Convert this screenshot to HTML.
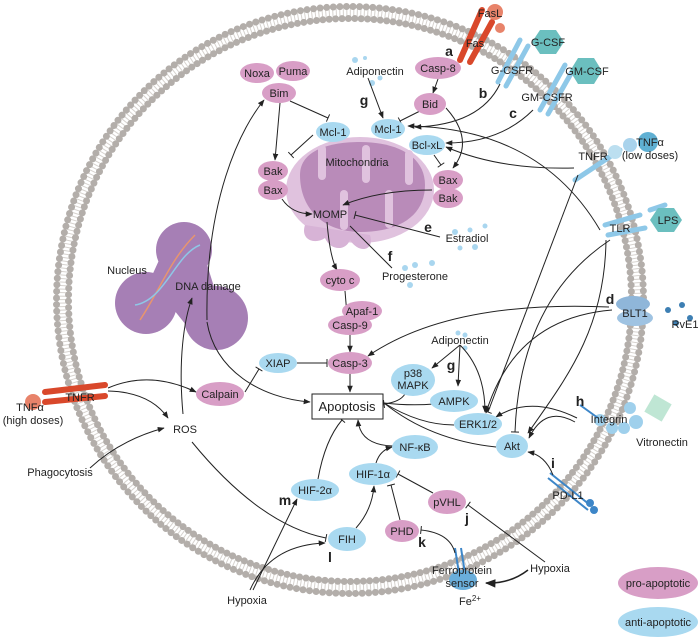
<!DOCTYPE html>
<html><head><meta charset="utf-8"><style>
html,body{margin:0;padding:0;background:#fff}
svg{display:block}
text{font-family:"Liberation Sans",sans-serif;font-size:11px;fill:#222}
.b{font-weight:bold;font-size:14px}
.p{fill:#d89ec6}.q{fill:#a9d9f0}
.l{fill:none;stroke:#222;stroke-width:1}
</style></head><body>
<svg width="700" height="638" viewBox="0 0 700 638">
<defs>
<marker id="a" viewBox="0 0 10 10" refX="9" refY="5" markerWidth="7" markerHeight="7" orient="auto"><path d="M0,1 L10,5 L0,9 Z" fill="#222"/></marker>
<marker id="t" viewBox="0 0 4 10" refX="2" refY="5" markerWidth="4" markerHeight="8" orient="auto"><path d="M2,0 L2,10" stroke="#222" stroke-width="1.2"/></marker>
</defs>
<!-- membrane -->
<circle cx="350" cy="300" r="287.5" fill="none" stroke="#d6d2ce" stroke-width="9" stroke-dasharray="1 2.5"/>
<circle cx="350" cy="300" r="293.5" fill="none" stroke="#b3aeaa" stroke-width="7" stroke-linecap="round" stroke-dasharray="0 6.6"/>
<circle cx="350" cy="300" r="281.5" fill="none" stroke="#b3aeaa" stroke-width="7" stroke-linecap="round" stroke-dasharray="0 6.4"/>

<!-- nucleus -->
<g fill="#a67fb5">
<circle cx="184" cy="250" r="28"/><circle cx="146" cy="303" r="31"/><circle cx="216" cy="318" r="32"/>
<path d="M160,258 L205,258 L215,290 L190,330 L150,280 Z"/>
</g>
<path d="M140,320 C160,290 170,260 195,235" stroke="#e8956e" stroke-width="1.5" fill="none"/>
<path d="M135,305 C165,300 175,255 200,245" stroke="#8fc7e6" stroke-width="1.5" fill="none"/>

<!-- mitochondria -->
<ellipse cx="360" cy="190" rx="74" ry="53" fill="#e0c2de"/>
<path d="M300,175 C300,150 330,142 360,142 C395,142 425,155 425,185 C425,215 400,232 360,232 C325,232 300,210 300,175 Z" fill="#b98bb9"/>
<g fill="#e0c2de"><rect x="318" y="145" width="8" height="35" rx="4"/><rect x="340" y="190" width="8" height="40" rx="4"/><rect x="362" y="145" width="8" height="38" rx="4"/><rect x="385" y="190" width="8" height="38" rx="4"/><rect x="405" y="150" width="8" height="35" rx="4"/></g>
<path d="M305,225 C300,240 315,245 325,238 C330,250 345,252 350,240 C360,255 375,250 370,235 Z" fill="#d7b3d6"/>
<text x="357" y="166" text-anchor="middle">Mitochondria</text>

<!-- receptors -->
<g stroke="#d9482b" stroke-width="6" stroke-linecap="round"><path d="M460,60 L482,10"/><path d="M470,62 L492,22"/></g>
<circle cx="495" cy="12" r="8" fill="#e8836a"/><circle cx="500" cy="28" r="5" fill="#e8836a"/>
<g stroke="#8ec8e8" stroke-width="5" stroke-linecap="round"><path d="M498,82 L520,40"/><path d="M506,86 L528,46"/><path d="M540,110 L565,65"/><path d="M548,114 L573,70"/><path d="M575,180 L620,150"/><path d="M605,225 L640,215"/><path d="M608,235 L645,228"/><path d="M650,210 L665,205"/></g>
<polygon points="540,30 556,30 564,42 556,54 540,54 532,42" fill="#6bbfbf"/>
<polygon points="578,58 594,58 602,71 594,84 578,84 570,71" fill="#6bbfbf"/>
<polygon points="658,208 674,208 682,220 674,232 658,232 650,220" fill="#6bbfbf"/>
<circle cx="648" cy="142" r="10" fill="#5fb0d3"/><circle cx="630" cy="145" r="7" fill="#a9d3ec"/><circle cx="615" cy="152" r="7" fill="#bcdff0"/>
<ellipse cx="633" cy="304" rx="17" ry="8" fill="#8fb6d9"/><ellipse cx="635" cy="318" rx="18" ry="8" fill="#9fc3e2"/>
<g fill="#3d7fb3"><circle cx="668" cy="310" r="3"/><circle cx="682" cy="305" r="3"/><circle cx="690" cy="318" r="3"/><circle cx="676" cy="323" r="3"/></g>
<g fill="#9fd0ec"><circle cx="600" cy="420" r="6"/><circle cx="612" cy="428" r="6"/><circle cx="624" cy="428" r="6"/><circle cx="636" cy="422" r="7"/><circle cx="630" cy="408" r="6"/></g>
<rect x="648" y="398" width="20" height="20" transform="rotate(30 658 408)" fill="#bfe6d4"/>
<g stroke="#3d86c8" stroke-width="2"><path d="M580,405 L598,418"/><path d="M550,473 L590,505"/><path d="M548,478 L588,510"/><path d="M455,548 L460,580"/><path d="M461,548 L466,580"/></g>
<circle cx="594" cy="510" r="4" fill="#3d86c8"/><circle cx="590" cy="503" r="4" fill="#3d86c8"/>
<ellipse cx="463" cy="580" rx="14" ry="10" fill="#6aaedb"/>
<g stroke="#d9482b" stroke-width="6" stroke-linecap="round"><path d="M45,392 L105,385"/><path d="M45,402 L105,396"/></g>
<circle cx="33" cy="402" r="8" fill="#e8836a"/>

<!-- ligand dots -->
<g fill="#a9d6ef">
<circle cx="355" cy="60" r="3"/><circle cx="365" cy="58" r="2"/><circle cx="372" cy="83" r="3"/><circle cx="380" cy="78" r="2.5"/>
<circle cx="455" cy="232" r="3"/><circle cx="470" cy="230" r="2.5"/><circle cx="475" cy="247" r="3"/><circle cx="460" cy="248" r="2.5"/><circle cx="485" cy="226" r="2.5"/>
<circle cx="405" cy="268" r="3"/><circle cx="415" cy="265" r="3"/><circle cx="410" cy="285" r="3"/><circle cx="432" cy="263" r="3"/>
<circle cx="458" cy="333" r="2.5"/><circle cx="465" cy="335" r="2.5"/><circle cx="465" cy="348" r="2.5"/>
</g>

<!-- connectors -->
<g class="l">
<path d="M438,79 L433,93" marker-end="url(#a)"/>
<path d="M420,111 L400,121" marker-end="url(#t)"/>
<path d="M446,108 Q475,140 453,168" marker-end="url(#a)"/>
<path d="M434,155 L441,165" marker-end="url(#t)"/>
<path d="M500,84 Q480,125 415,127" marker-end="url(#a)"/>
<path d="M533,110 Q500,143 446,143" marker-end="url(#a)"/>
<path d="M574,168 Q500,170 446,147" marker-end="url(#a)"/>
<path d="M600,230 Q540,128 408,126" marker-end="url(#a)"/>
<path d="M368,78 L383,118" marker-end="url(#a)"/>
<path d="M280,103 L275,160" marker-end="url(#a)"/>
<path d="M290,101 L328,118" marker-end="url(#t)"/>
<path d="M313,135 L291,155" marker-end="url(#t)"/>
<path d="M282,199 Q292,214 312,214" marker-end="url(#a)"/>
<path d="M432,190 Q380,190 343,205" marker-end="url(#a)"/>
<path d="M440,237 L355,215" marker-end="url(#t)"/>
<path d="M392,268 L350,226"/>
<path d="M327,222 Q330,258 337,270" marker-end="url(#a)"/>
<path d="M345,291 L347,315" marker-end="url(#a)"/>
<path d="M350,335 L350,352" marker-end="url(#a)"/>
<path d="M297,363 L327,363" marker-end="url(#t)"/>
<path d="M350,374 L350,392" marker-end="url(#a)"/>
<path d="M609,307 Q450,300 368,356" marker-end="url(#a)"/>
<path d="M612,310 Q515,318 486,413" marker-end="url(#a)"/>
<path d="M578,175 L488,412" marker-end="url(#t)"/>
<path d="M610,240 Q520,300 515,432" marker-end="url(#t)"/>
<path d="M606,240 C605,330 565,380 528,433" marker-end="url(#a)"/>
<path d="M460,345 L432,368" marker-end="url(#a)"/>
<path d="M460,345 L458,386" marker-end="url(#a)"/>
<path d="M460,345 Q485,370 485,412" marker-end="url(#a)"/>
<path d="M405,394 Q400,402 384,404" marker-end="url(#t)"/>
<path d="M434,404 Q410,406 384,403"/>
<path d="M454,425 Q420,425 384,403"/>
<path d="M496,447 Q430,440 384,403"/>
<path d="M393,446 Q360,445 358,420" marker-end="url(#a)"/>
<path d="M318,479 Q325,440 342,420" marker-end="url(#t)"/>
<path d="M376,463 Q380,450 392,447" marker-end="url(#a)"/>
<path d="M356,528 Q372,510 374,486" marker-end="url(#a)"/>
<path d="M400,520 L391,485" marker-end="url(#t)"/>
<path d="M433,493 L398,474" marker-end="url(#t)"/>
<path d="M545,562 L468,505" marker-end="url(#t)"/>
<path d="M455,553 Q450,533 421,530" marker-end="url(#t)"/>
<path d="M528,570 Q510,584 486,583" marker-end="url(#a)" stroke-width="1.5"/>
<path d="M577,418 Q530,395 496,417" marker-end="url(#a)"/>
<path d="M575,422 Q545,405 529,438" marker-end="url(#a)"/>
<path d="M553,475 Q545,455 528,452" marker-end="url(#a)"/>
<path d="M192,442 Q260,525 326,538" marker-end="url(#t)"/>
<path d="M250,590 Q270,545 325,543" marker-end="url(#a)"/>
<path d="M253,590 L297,499" marker-end="url(#a)"/>
<path d="M90,468 Q120,440 164,428" marker-end="url(#a)"/>
<path d="M108,391 Q150,392 168,418" marker-end="url(#a)"/>
<path d="M108,388 Q150,370 196,392" marker-end="url(#a)"/>
<path d="M245,392 L259,369" marker-end="url(#t)"/>
<path d="M183,414 C178,360 184,320 192,298" marker-end="url(#a)"/>
<path d="M207,320 C205,200 240,130 264,100" marker-end="url(#a)"/>
<path d="M207,322 C215,370 260,398 310,402" marker-end="url(#a)"/>
</g>

<!-- nodes -->
<g>
<ellipse class="p" cx="257" cy="73" rx="17" ry="10"/><ellipse class="p" cx="293" cy="71" rx="17" ry="10"/><ellipse class="p" cx="279" cy="93" rx="17" ry="10"/>
<ellipse class="q" cx="333" cy="132" rx="17" ry="10"/><ellipse class="p" cx="273" cy="171" rx="15" ry="10"/><ellipse class="p" cx="273" cy="190" rx="15" ry="10"/>
<ellipse class="p" cx="438" cy="68" rx="23" ry="11"/><ellipse class="p" cx="430" cy="104" rx="16" ry="11"/>
<ellipse class="q" cx="388" cy="129" rx="17" ry="10"/><ellipse class="q" cx="427" cy="145" rx="18" ry="10"/>
<ellipse class="p" cx="448" cy="180" rx="15" ry="10"/><ellipse class="p" cx="448" cy="198" rx="15" ry="10"/>
<ellipse class="p" cx="340" cy="280" rx="20" ry="11"/><ellipse class="p" cx="362" cy="311" rx="20" ry="10"/><ellipse class="p" cx="350" cy="325" rx="22" ry="10"/>
<ellipse class="p" cx="350" cy="363" rx="22" ry="11"/><ellipse class="q" cx="278" cy="363" rx="19" ry="10"/><ellipse class="p" cx="220" cy="394" rx="24" ry="12"/>
<ellipse class="q" cx="413" cy="380" rx="22" ry="16"/><ellipse class="q" cx="454" cy="401" rx="24" ry="11"/><ellipse class="q" cx="478" cy="424" rx="24" ry="11"/><ellipse class="q" cx="512" cy="446" rx="16" ry="12"/>
<ellipse class="q" cx="415" cy="447" rx="23" ry="12"/><ellipse class="q" cx="373" cy="474" rx="24" ry="11"/><ellipse class="p" cx="447" cy="502" rx="19" ry="12"/><ellipse class="p" cx="402" cy="531" rx="17" ry="11"/>
<ellipse class="q" cx="347" cy="539" rx="19" ry="12"/><ellipse class="q" cx="315" cy="490" rx="24" ry="11"/>
<ellipse class="p" cx="658" cy="583" rx="40" ry="16"/><ellipse class="q" cx="658" cy="622" rx="40" ry="15"/>
</g>
<rect x="312" y="394" width="71" height="25" fill="#fff" stroke="#222"/>

<!-- labels -->
<g text-anchor="middle">
<text x="257" y="77">Noxa</text><text x="293" y="75">Puma</text><text x="279" y="97">Bim</text>
<text x="333" y="136">Mcl-1</text><text x="273" y="175">Bak</text><text x="273" y="194">Bax</text>
<text x="330" y="218">MOMP</text><text x="375" y="75">Adiponectin</text>
<text x="438" y="72">Casp-8</text><text x="430" y="108">Bid</text><text x="388" y="133">Mcl-1</text><text x="427" y="149">Bcl-xL</text>
<text x="448" y="184">Bax</text><text x="448" y="202">Bak</text>
<text x="490" y="17">FasL</text><text x="475" y="47">Fas</text><text x="548" y="46">G-CSF</text><text x="512" y="74">G-CSFR</text>
<text x="587" y="75">GM-CSF</text><text x="547" y="101">GM-CSFR</text>
<text x="593" y="160">TNFR</text><text x="650" y="146">TNFα</text><text x="650" y="159">(low doses)</text>
<text x="620" y="232">TLR</text><text x="668" y="224">LPS</text><text x="635" y="317">BLT1</text><text x="685" y="328">RvE1</text>
<text x="467" y="242">Estradiol</text><text x="415" y="280">Progesterone</text>
<text x="340" y="284">cyto c</text><text x="362" y="315">Apaf-1</text><text x="350" y="329">Casp-9</text><text x="350" y="367">Casp-3</text>
<text x="278" y="367">XIAP</text><text x="220" y="398">Calpain</text>
<text x="347" y="411" style="font-size:13px">Apoptosis</text>
<text x="127" y="274">Nucleus</text><text x="208" y="290">DNA damage</text>
<text x="80" y="401">TNFR</text><text x="30" y="411">TNFα</text><text x="33" y="424">(high doses)</text>
<text x="185" y="433">ROS</text><text x="60" y="476">Phagocytosis</text>
<text x="460" y="344">Adiponectin</text><text x="413" y="377">p38</text><text x="413" y="389">MAPK</text>
<text x="454" y="405">AMPK</text><text x="478" y="428">ERK1/2</text><text x="512" y="450">Akt</text>
<text x="415" y="451">NF-κB</text><text x="373" y="478">HIF-1α</text><text x="447" y="506">pVHL</text><text x="402" y="535">PHD</text>
<text x="347" y="543">FIH</text><text x="315" y="494">HIF-2α</text>
<text x="247" y="604">Hypoxia</text><text x="550" y="572">Hypoxia</text>
<text x="462" y="574">Ferroprotein</text><text x="462" y="587">sensor</text><text x="470" y="605">Fe<tspan dy="-4" style="font-size:8px">2+</tspan></text>
<text x="568" y="499">PD-L1</text><text x="609" y="423">Integrin</text><text x="662" y="446">Vitronectin</text>
<text x="658" y="587">pro-apoptotic</text><text x="658" y="626">anti-apoptotic</text>
</g>
<g class="b" text-anchor="middle">
<text class="b" x="449" y="56">a</text><text class="b" x="483" y="98">b</text><text class="b" x="513" y="118">c</text>
<text class="b" x="610" y="304">d</text><text class="b" x="428" y="232">e</text><text class="b" x="390" y="261">f</text>
<text class="b" x="364" y="105">g</text><text class="b" x="451" y="370">g</text><text class="b" x="580" y="406">h</text>
<text class="b" x="553" y="468">i</text><text class="b" x="467" y="523">j</text><text class="b" x="422" y="547">k</text>
<text class="b" x="330" y="562">l</text><text class="b" x="285" y="505">m</text>
</g>
</svg>
</body></html>
